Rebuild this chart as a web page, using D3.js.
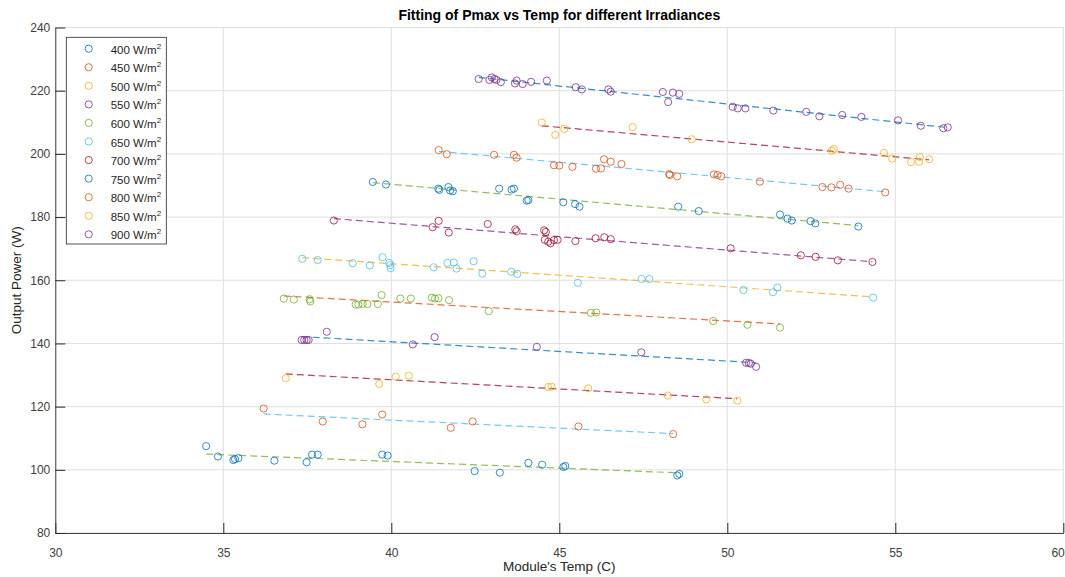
<!DOCTYPE html>
<html>
<head>
<meta charset="utf-8">
<script src="https://cdn.jsdelivr.net/npm/d3@7"></script>
<style>
  body { margin: 0; background: #fff; }
  svg { display: block; font-family: "Liberation Sans", Arial, sans-serif; }
</style>
</head>
<body>
<div id="chart"></div>
<script>
// measured (temp, power) points, one array per irradiance level
const irradiances = [400, 450, 500, 550, 600, 650, 700, 750, 800, 850, 900];

const pts400 = [[34.49,107.5],[34.84,104.2],[35.30,103.1],[35.35,103.4],[35.45,103.7],[36.52,102.9],[37.48,102.4],[37.64,104.8],[37.81,104.8],[39.73,104.8],[39.89,104.5],[42.48,99.6],[43.23,99.1],[44.08,102.2],[44.49,101.6],[45.12,100.9],[45.18,101.2],[48.51,98.2],[48.57,98.7]];
const pts450 = [[36.20,119.4],[37.96,115.3],[39.14,114.4],[39.73,117.5],[41.77,113.3],[42.42,115.3],[45.57,113.7],[48.39,111.3]];
const pts500 = [[36.86,129.0],[39.64,127.2],[40.13,129.5],[40.52,129.8],[44.67,126.2],[44.77,126.3],[45.86,125.8],[48.23,123.5],[49.38,122.3],[50.30,121.9]];
const pts550 = [[37.33,141.1],[37.41,141.1],[37.48,141.1],[37.54,141.1],[38.08,143.7],[40.64,139.7],[41.29,142.0],[44.33,138.9],[47.44,137.2],[50.56,133.9],[50.64,133.8],[50.70,133.6],[50.86,132.6]];
const pts600 = [[36.80,154.2],[37.10,153.9],[37.57,154.0],[37.59,153.3],[38.94,152.3],[39.02,152.3],[39.15,152.5],[39.29,152.5],[39.60,152.5],[39.71,155.3],[40.27,154.2],[40.58,154.2],[41.21,154.5],[41.30,154.2],[41.40,154.3],[41.72,153.7],[42.90,150.2],[45.94,149.7],[46.10,149.8],[49.58,147.1],[50.60,145.9],[51.57,145.0]];
const pts650 = [[37.35,166.8],[37.81,166.4],[38.85,165.4],[39.36,164.7],[39.74,167.3],[39.94,165.5],[39.97,164.8],[39.98,163.8],[41.26,164.1],[41.67,165.5],[41.86,165.6],[41.94,163.7],[42.45,166.0],[42.71,162.1],[43.57,162.7],[43.75,162.0],[45.55,159.2],[47.45,160.4],[47.68,160.4],[50.48,156.9],[51.36,156.2],[51.49,157.7],[54.34,154.5]];
const pts700 = [[38.29,178.9],[41.23,176.8],[41.41,178.8],[41.71,175.1],[42.87,177.8],[43.69,176.1],[43.73,175.5],[44.55,175.8],[44.60,175.3],[44.57,172.8],[44.67,172.2],[44.74,171.7],[44.84,172.7],[44.95,172.8],[45.48,172.4],[46.08,173.3],[46.34,173.6],[46.53,173.0],[50.10,170.1],[52.19,167.9],[52.63,167.4],[53.29,166.3],[54.32,165.8]];
const pts750 = [[39.45,191.1],[39.84,190.3],[41.40,189.0],[41.43,188.6],[41.70,189.5],[41.75,188.4],[41.83,188.2],[43.21,189.0],[43.58,188.7],[43.65,189.0],[44.03,185.2],[44.08,185.4],[45.12,184.7],[45.47,184.1],[45.60,183.3],[48.54,183.3],[49.15,181.9],[51.57,180.8],[51.79,179.5],[51.92,178.9],[52.48,178.7],[52.62,178.0],[53.90,177.0]];
const pts800 = [[41.41,201.2],[41.65,199.9],[43.06,199.7],[43.65,199.7],[43.73,198.8],[44.84,196.4],[45.00,196.3],[45.39,195.9],[46.09,195.3],[46.24,195.4],[46.33,198.3],[46.53,197.5],[46.85,196.8],[48.27,193.6],[48.29,193.3],[48.51,192.9],[49.60,193.5],[49.71,193.3],[49.82,192.9],[50.97,191.2],[52.83,189.5],[53.10,189.4],[53.36,190.2],[53.61,189.0],[54.70,187.8]];
const pts850 = [[44.48,209.9],[45.15,207.9],[44.88,206.0],[47.18,208.5],[48.94,204.6],[53.11,201.0],[53.17,201.5],[54.66,200.3],[54.91,198.5],[55.47,197.4],[55.73,199.0],[55.71,197.5],[56.01,198.3]];
const pts900 = [[42.60,223.7],[42.92,223.4],[42.99,224.2],[43.07,223.7],[43.13,223.4],[43.26,222.7],[43.68,222.3],[43.73,223.2],[43.91,222.1],[44.16,222.8],[44.63,223.2],[45.49,221.1],[45.67,220.4],[46.46,220.4],[46.53,219.7],[48.08,219.6],[48.38,219.4],[48.57,219.0],[48.24,216.4],[50.16,214.9],[50.31,214.4],[50.54,214.4],[51.37,213.7],[52.35,213.3],[52.74,211.9],[53.42,212.3],[53.99,211.7],[55.08,210.6],[55.76,208.9],[56.43,208.1],[56.56,208.4]];

const groups = [pts400, pts450, pts500, pts550, pts600, pts650, pts700, pts750, pts800, pts850, pts900];

const xTicks = [30, 35, 40, 45, 50, 55, 60];
const yTicks = [80, 100, 120, 140, 160, 180, 200, 220, 240];

// matlab default color order
const colorOrder = ['#0072BD', '#D95319', '#EDB120', '#7E2F8E', '#77AC30', '#4DBEEE', '#A2142F'];

const width = 1065, height = 577;
const margin = { top: 27.5, right: 1.7, bottom: 44, left: 55.3 };

const svg = d3.select('#chart').append('svg')
  .attr('width', width)
  .attr('height', height);

const x = d3.scaleLinear().domain([30, 60]).range([margin.left, width - margin.right]);
const y = d3.scaleLinear().domain([80, 240]).range([height - margin.bottom, margin.top]);

// grid
const grid = svg.append('g').attr('stroke', '#dfdfdf').attr('stroke-width', 1);
grid.selectAll('.gx').data(xTicks).enter().append('line')
  .attr('x1', d => x(d)).attr('x2', d => x(d))
  .attr('y1', y(80)).attr('y2', y(240));
grid.selectAll('.gy').data(yTicks).enter().append('line')
  .attr('y1', d => y(d)).attr('y2', d => y(d))
  .attr('x1', x(30)).attr('x2', x(60));

// axes, ticks inward like matlab
const xAxis = svg.append('g')
  .attr('transform', `translate(0,${y(80)})`)
  .call(d3.axisBottom(x).tickValues(xTicks).tickSizeInner(-10).tickSizeOuter(0).tickPadding(15));
const yAxis = svg.append('g')
  .attr('transform', `translate(${x(30)},0)`)
  .call(d3.axisLeft(y).tickValues(yTicks).tickSizeInner(-10).tickSizeOuter(0).tickPadding(5));
[xAxis, yAxis].forEach(a => {
  a.select('.domain').attr('stroke', '#404040');
  a.selectAll('.tick line').attr('stroke', '#262626');
  a.selectAll('.tick text').attr('fill', '#404040').style('font-size', '12px');
});
// last x label sits on the right edge, keep it inside the picture
xAxis.selectAll('.tick text').filter(d => d === 60).attr('text-anchor', 'end').attr('x', 1);

// least squares fit for each group
function fit(pts) {
  const mx = d3.mean(pts, p => p[0]), my = d3.mean(pts, p => p[1]);
  const sxy = d3.sum(pts, p => (p[0] - mx) * (p[1] - my));
  const sxx = d3.sum(pts, p => (p[0] - mx) * (p[0] - mx));
  const b = sxy / sxx, a = my - b * mx;
  const [x0, x1] = d3.extent(pts, p => p[0]);
  return [[x0, a + b * x0], [x1, a + b * x1]];
}

const line = d3.line().x(d => x(d[0])).y(d => y(d[1]));

groups.forEach((pts, i) => {
  svg.append('path')
    .datum(fit(pts))
    .attr('d', line)
    .attr('fill', 'none')
    .attr('stroke', colorOrder[(i + 4) % 7])
    .attr('stroke-width', 1.2)
    .attr('stroke-dasharray', '7,4')
    .attr('opacity', 0.8);

  svg.append('g').selectAll('circle')
    .data(pts)
    .enter()
    .append('circle')
    .attr('cx', d => x(d[0]))
    .attr('cy', d => y(d[1]))
    .attr('r', 3.6)
    .attr('fill', 'none')
    .attr('stroke', colorOrder[i % 7])
    .attr('stroke-width', 1)
    .attr('opacity', 0.8);
});

// legend
const legend = svg.append('g');
legend.append('rect')
  .attr('x', 66.3).attr('y', 37.3)
  .attr('width', 100).attr('height', 206.7)
  .attr('fill', '#fff').attr('stroke', '#262626').attr('stroke-width', 0.8);
irradiances.forEach((irr, i) => {
  const ly = 48.7 + i * 18.56;
  legend.append('circle')
    .attr('cx', 88.7).attr('cy', ly).attr('r', 3.6)
    .attr('fill', 'none').attr('stroke', colorOrder[i % 7]).attr('opacity', 0.8);
  const t = legend.append('text')
    .attr('x', 110.7).attr('y', ly + 5)
    .attr('fill', '#262626').style('font-size', '11.5px');
  t.append('tspan').text(`${irr} W/m`);
  t.append('tspan').attr('dy', -5).style('font-size', '8px').text('2');
});

// titles
svg.append('text')
  .attr('x', (x(30) + x(60)) / 2).attr('y', 20)
  .attr('text-anchor', 'middle').attr('fill', '#000')
  .style('font-size', '14px').style('font-weight', 'bold')
  .text('Fitting of Pmax vs Temp for different Irradiances');
svg.append('text')
  .attr('x', (x(30) + x(60)) / 2).attr('y', 571)
  .attr('text-anchor', 'middle').attr('fill', '#262626')
  .style('font-size', '13.5px')
  .text("Module's Temp (C)");
svg.append('text')
  .attr('transform', `translate(21,${(y(80) + y(240)) / 2}) rotate(-90)`)
  .attr('text-anchor', 'middle').attr('fill', '#262626')
  .style('font-size', '13.5px')
  .text('Output Power (W)');
</script>
</body>
</html>
